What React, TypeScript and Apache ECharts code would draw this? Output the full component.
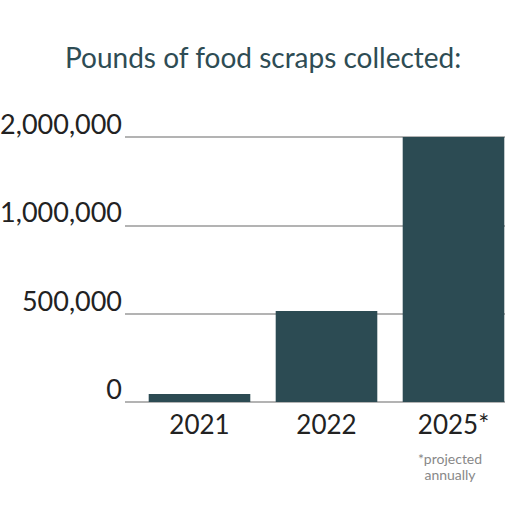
import React, { useEffect, useRef } from 'react';
import * as echarts from 'echarts';

const years = ['2021', '2022', '2025*'];
const pounds = [45000, 515000, 2000000];
const tickValues = [0, 500000, 1000000, 2000000];
const tickLabels = ['0', '500,000', '1,000,000', '2,000,000'];
const footnote = ['*projected', 'annually'];

const FONT = 'Lato';

// the axis is not linear: each gap between the ticks gets the same height
const toAxis = (v: number) => {
  for (let i = 0; i < tickValues.length - 1; i++) {
    if (v <= tickValues[i + 1]) {
      return i + (v - tickValues[i]) / (tickValues[i + 1] - tickValues[i]);
    }
  }
  return tickValues.length - 1;
};

const App: React.FC = () => {
  const chartRef = useRef<HTMLDivElement>(null);

  useEffect(() => {
    const chart = echarts.init(chartRef.current!, null, { renderer: 'svg' });
    const top = tickValues.length - 1;

    chart.setOption({
      animation: false,
      textStyle: { fontFamily: FONT },
      title: {
        text: 'Pounds of food scraps collected:',
        left: 65,
        top: 43,
        padding: 0,
        textStyle: { fontFamily: FONT, fontSize: 28, fontWeight: 'normal', color: '#2e4c54' },
      },
      grid: [
        { left: 125, right: 0, top: 137, bottom: 103, outerBoundsMode: 'none' },
        // bars sit on their own grid, whose last band runs past the page edge
        { left: 136, width: 381, top: 137, bottom: 103, outerBoundsMode: 'none' },
      ],
      xAxis: [
        { gridIndex: 0, type: 'value', show: false },
        {
          gridIndex: 1,
          type: 'category',
          data: years,
          axisLine: { show: false },
          axisTick: { show: false },
          axisLabel: { fontFamily: FONT, fontSize: 26, color: '#222', margin: 9 },
        },
      ],
      yAxis: [
        {
          gridIndex: 0,
          type: 'value',
          min: 0,
          max: top,
          interval: 1,
          axisLine: { show: false },
          axisTick: { show: false },
          axisLabel: {
            fontFamily: FONT,
            fontSize: 27,
            color: '#222',
            margin: 3,
            verticalAlign: 'bottom',
            formatter: (v: number) => tickLabels[v] ?? '',
          },
          splitLine: { lineStyle: { color: '#9a9a9a', width: 1.5 } },
        },
        { gridIndex: 1, type: 'value', min: 0, max: top, show: false },
      ],
      series: [
        {
          type: 'bar',
          xAxisIndex: 1,
          yAxisIndex: 1,
          data: pounds.map(toAxis),
          barWidth: '80%',
          itemStyle: { color: '#2c4b53' },
        },
      ],
      graphic: footnote.map((line, i) => ({
        type: 'text',
        x: 450,
        y: 451 + i * 16,
        style: {
          text: line,
          align: 'center',
          fontFamily: FONT,
          fontSize: 14,
          fill: '#888',
        },
      })),
    });

    return () => {
      chart.dispose();
    };
  }, []);

  return (
    <div
      ref={chartRef}
      style={{ position: 'absolute', left: 0, top: 0, width: '505px', height: '505px' }}
    />
  );
};

export default App;
